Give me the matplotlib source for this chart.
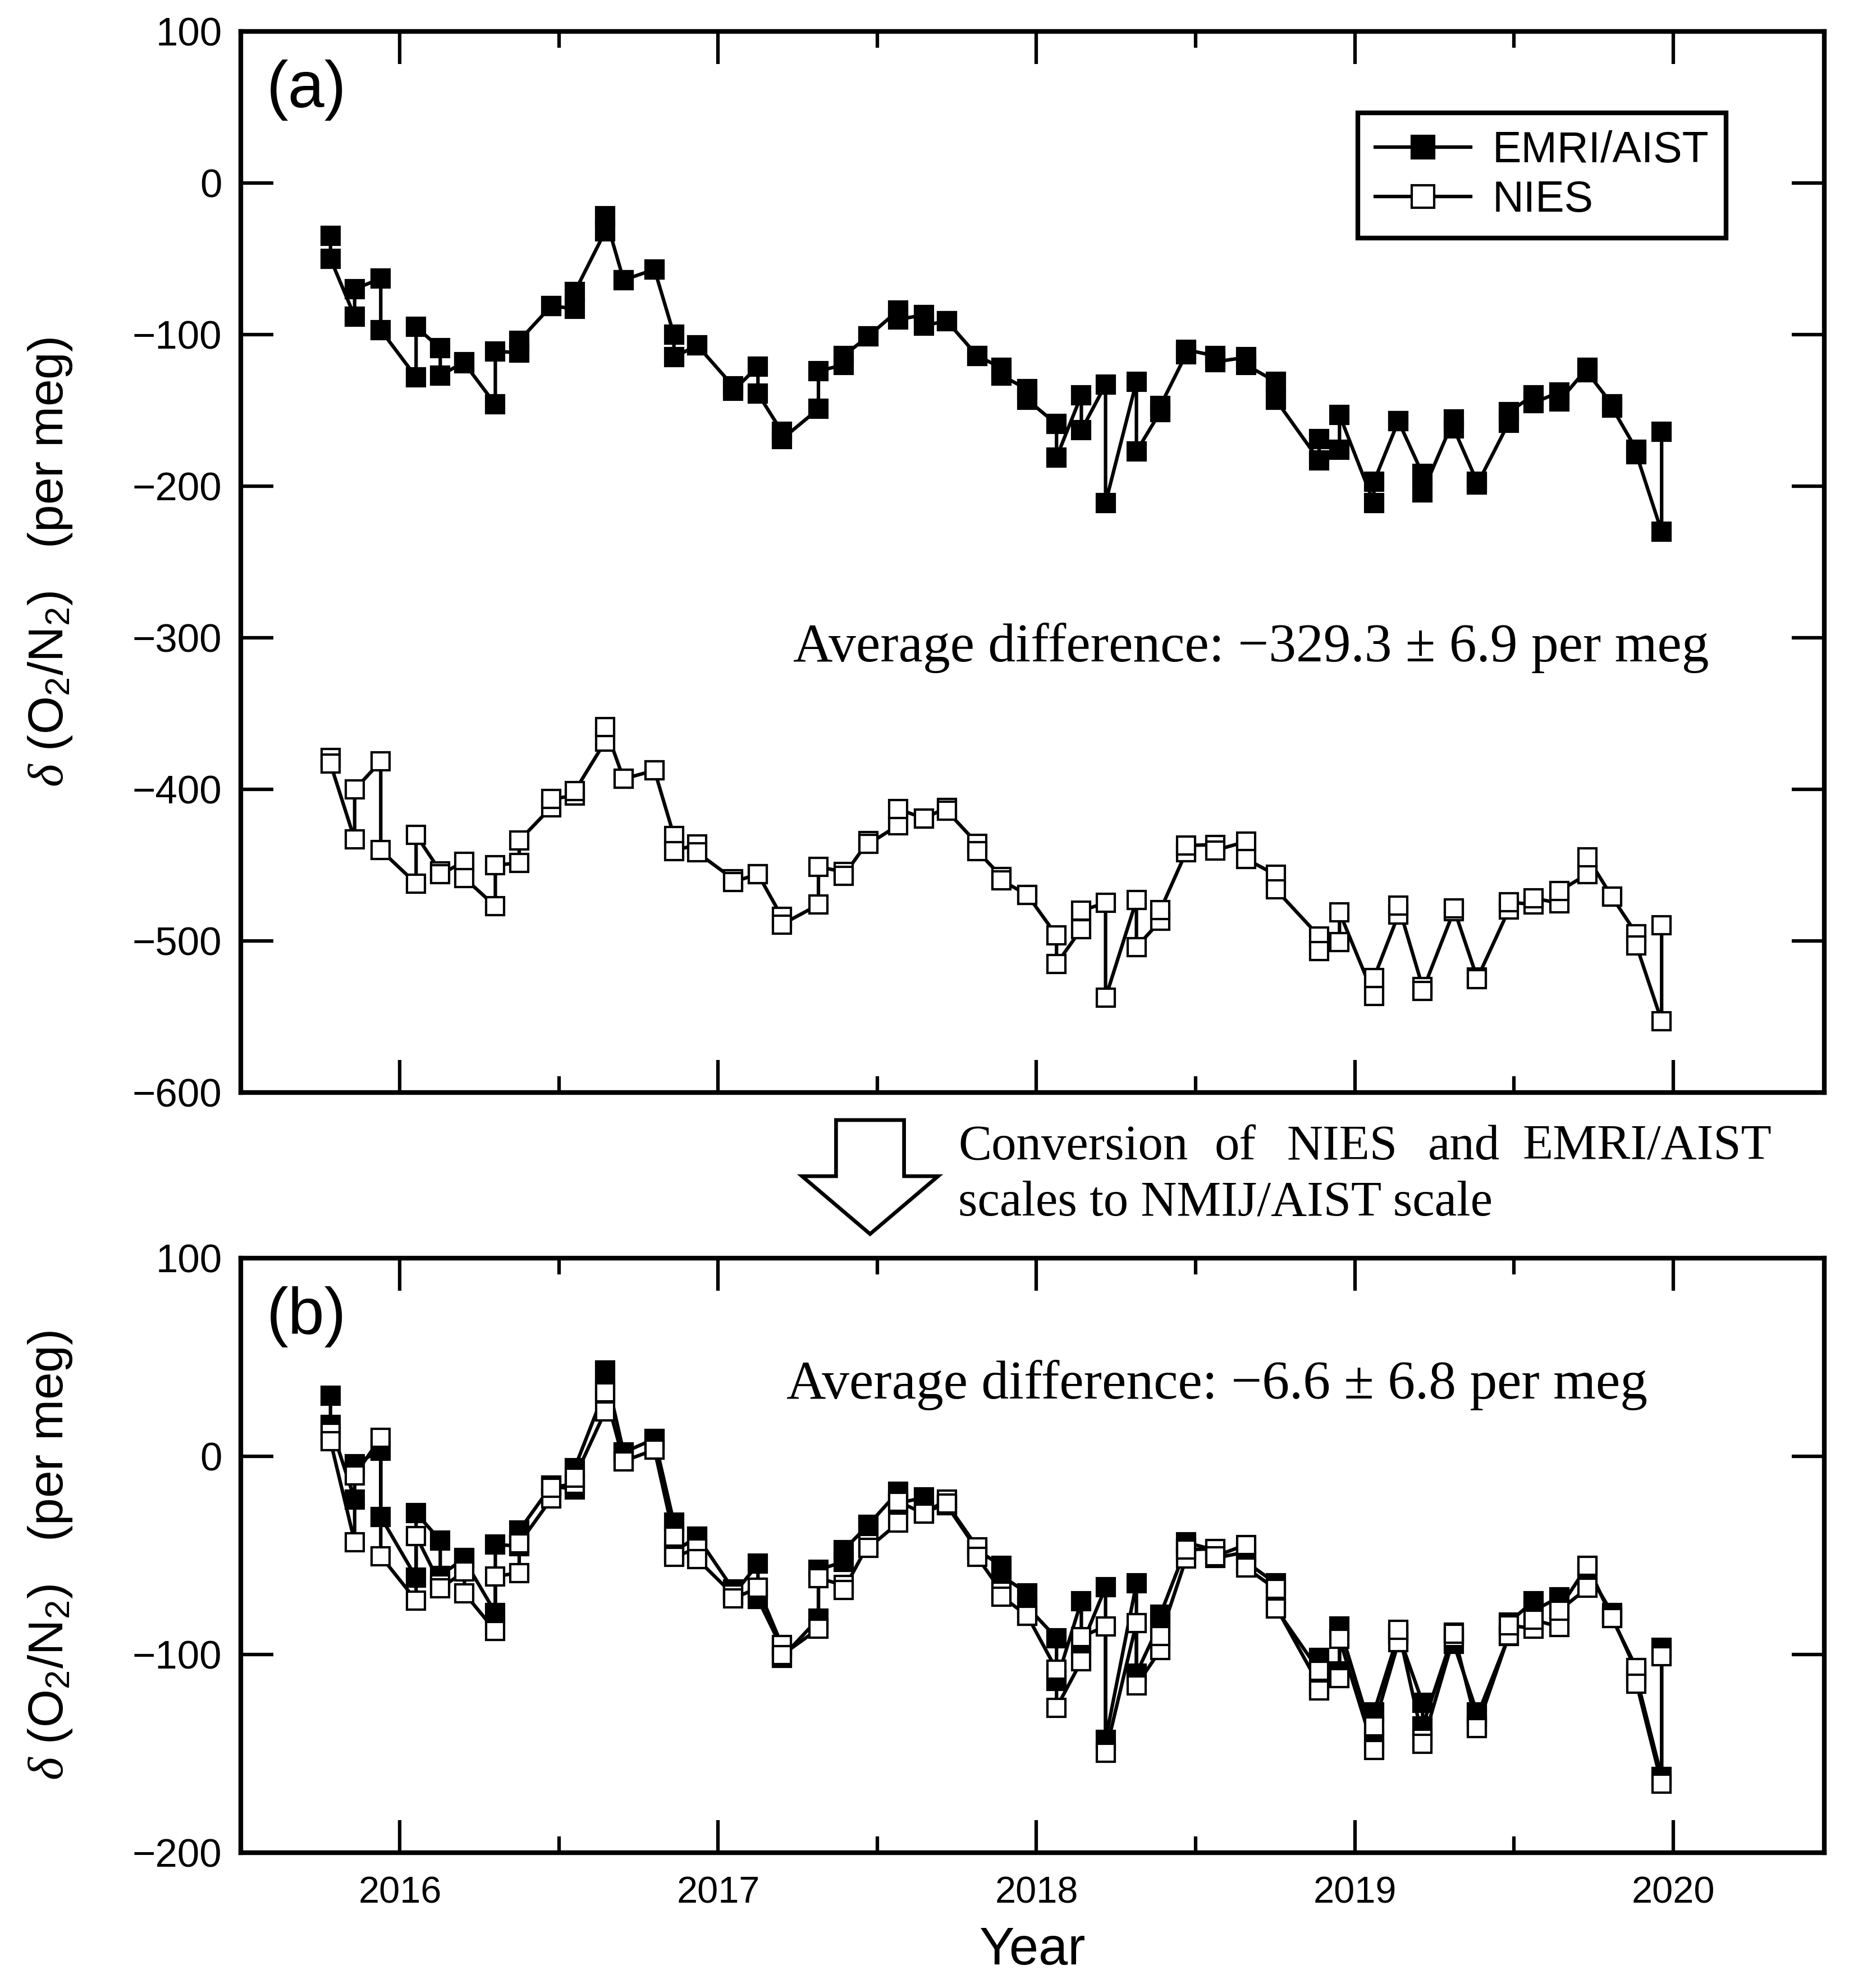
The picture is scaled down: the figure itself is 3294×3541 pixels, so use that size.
import numpy as np
import matplotlib
matplotlib.use("Agg")
import matplotlib.pyplot as plt
from matplotlib.patches import Polygon

plt.rcParams['font.family'] = ['Liberation Sans', 'DejaVu Sans']
plt.rcParams['mathtext.fontset'] = 'custom'
plt.rcParams['mathtext.rm'] = 'Liberation Sans'
plt.rcParams['mathtext.it'] = 'Liberation Serif:italic'
plt.rcParams['mathtext.bf'] = 'Liberation Sans:bold'
plt.rcParams['axes.unicode_minus'] = True

# ---------------- data (decimal year, two samples per date) ----------------
dates = [2015.782, 2015.858, 2015.940, 2016.051, 2016.127, 2016.203, 2016.300, 2016.375,
         2016.476, 2016.549, 2016.645, 2016.703, 2016.800, 2016.861, 2016.934, 2017.047,
         2017.125, 2017.200, 2017.315, 2017.394, 2017.472, 2017.566, 2017.647, 2017.718,
         2017.814, 2017.890, 2017.971, 2018.063, 2018.141, 2018.217, 2018.314, 2018.389,
         2018.470, 2018.561, 2018.658, 2018.752, 2018.888, 2018.952, 2019.060, 2019.137,
         2019.213, 2019.311, 2019.384, 2019.484, 2019.562, 2019.642, 2019.731, 2019.808,
         2019.885, 2019.964]

# panel (a): original scales
emri_a_1 = [-35, -88, -63, -128, -109, -118, -146, -112, -81, -83, -32, -64, -57, -100, -107, -134,
            -121, -164, -149, -120, -101, -84, -87, -91, -114, -122, -136, -159, -140, -133, -131, -151,
            -113, -114, -115, -131, -183, -176, -211, -157, -192, -156, -197, -158, -140, -138, -122, -146,
            -176, -230]
emri_a_2 = [-50, -70, -97, -95, -127, -119, -111, -104, -81, -72, -22, -64, -57, -115, -107, -137,
            -139, -169, -124, -114, -101, -90, -94, -91, -114, -127, -143, -181, -163, -211, -177, -147,
            -110, -118, -120, -143, -169, -153, -197, -157, -204, -162, -199, -151, -145, -144, -125, -148,
            -179, -164]
nies_a_1 = [-379, -433, -381.5, -462, -454, -447.5, -477, -448.3, -411.6, -404.1, -368.4, -393, -387.4,
            -430.5, -436.2, -459, -455.8, -484, -476, -454.3, -434, -423.5, -419, -412, -435.7, -457.5,
            -469.4, -496.3, -492, -474.7, -473, -486.6, -441.3, -436.4, -434.4, -456.3, -496.8, -500.5,
            -536, -482.6, -530.3, -480.1, -524, -479.3, -475.9, -475, -455.8, -470.8, -495.4, -552.7]
nies_a_2 = [-383, -400, -440, -430, -456, -458.4, -450, -433.7, -406.2, -401.2, -359, -393, -387.4,
            -440.5, -441.5, -461, -455.8, -489, -451, -456.8, -436, -413, -419, -414, -440.5, -460,
            -469.4, -515, -480, -537.4, -504, -479.6, -436.9, -440.1, -445.8, -466, -506.5, -481,
            -524.3, -476.4, -532.8, -478.4, -525, -474.2, -471.6, -467, -444.7, -470.8, -503, -489.5]

# panel (b): NMIJ/AIST scale
emri_b_1 = [30.6, -21.8, 2.9, -61.2, -42.5, -51.4, -79.0, -45.4, -14.9, -16.8, 33.5, 1.9, 8.8, -33.6,
            -40.5, -67.2, -54.3, -96.8, -82.0, -53.3, -34.6, -17.8, -20.8, -24.7, -47.4, -55.3, -69.1,
            -91.8, -73.1, -66.2, -64.2, -83.9, -46.4, -47.4, -48.4, -64.2, -115.5, -108.6, -143.2, -89.9,
            -124.4, -88.9, -129.3, -90.8, -73.1, -71.1, -55.3, -79.0, -108.6, -161.9]
emri_b_2 = [15.8, -4.0, -30.6, -28.7, -60.3, -52.4, -44.5, -37.5, -14.9, -6.0, 43.4, 1.9, 8.8, -48.4,
            -40.5, -70.1, -72.1, -101.7, -57.3, -47.4, -34.6, -23.7, -27.7, -24.7, -47.4, -60.3, -76.0,
            -113.5, -95.8, -143.2, -109.6, -80.0, -43.5, -51.4, -53.3, -76.0, -101.7, -85.9, -129.3, -89.9,
            -136.3, -94.8, -131.3, -83.9, -78.0, -77.0, -58.3, -81.0, -111.6, -96.8]
nies_b_1 = [11.8, -43.3, 9.3, -72.8, -64.7, -58.1, -88.1, -58.9, -21.4, -13.8, 22.6, -2.5, 3.3, -40.7,
            -46.5, -69.8, -66.5, -95.3, -87.1, -65.0, -44.3, -33.6, -29.0, -21.8, -46.0, -68.3, -80.4,
            -107.8, -103.4, -85.8, -84.1, -97.9, -51.7, -46.7, -44.7, -67.0, -108.3, -112.1, -148.3, -93.9,
            -142.5, -91.3, -136.1, -90.5, -87.0, -86.1, -66.5, -81.8, -106.9, -165.4]
nies_b_2 = [7.7, -9.6, -50.4, -40.2, -66.7, -69.2, -60.6, -44.0, -15.9, -10.8, 32.2, -2.5, 3.3, -50.9,
            -51.9, -71.8, -66.5, -100.4, -61.6, -67.5, -46.3, -22.9, -29.0, -23.9, -50.9, -70.8, -80.4,
            -126.9, -91.2, -149.7, -115.7, -90.8, -47.2, -50.5, -56.3, -76.9, -118.2, -92.2, -136.4, -87.5,
            -145.1, -89.6, -137.1, -85.3, -82.6, -77.9, -55.2, -81.8, -114.7, -100.9]

year_ticks = [2016, 2017, 2018, 2019, 2020]
year_labels = ['2016', '2017', '2018', '2019', '2020']
label_a = 'Average difference: \u2212329.3 \u00b1 6.9 per meg'
label_b = 'Average difference: \u22126.6 \u00b1 6.8 per meg'

# ---------------- figure ----------------
W, H = 3295, 3541
fig = plt.figure(figsize=(W / 300, H / 300), dpi=300)


def fx(px):
    return px / W


def fy(py):
    return 1 - py / H


left = fx(428.8)
width = fx(3250) - left
ax_a = fig.add_axes([left, fy(1946.4), width, fy(55.8) - fy(1946.4)])
ax_b = fig.add_axes([left, fy(3299.5), width, fy(2241) - fy(3299.5)])


def pairs(x, s1, s2):
    xx = np.repeat(np.asarray(x, float), 2)
    yy = np.column_stack((s1, s2)).ravel()
    return xx, yy


line_kw = dict(color='k', lw=1.5, marker='s', ms=7.6, mew=1.0, mec='k')

xa, ya = pairs(dates, emri_a_1, emri_a_2)
h1, = ax_a.plot(xa, ya, mfc='k', zorder=3, label='EMRI/AIST', **line_kw)
xa, ya = pairs(dates, nies_a_1, nies_a_2)
h2, = ax_a.plot(xa, ya, mfc='white', zorder=4, label='NIES', **line_kw)

xb, yb = pairs(dates, emri_b_1, emri_b_2)
ax_b.plot(xb, yb, mfc='k', zorder=3, **line_kw)
xb, yb = pairs(dates, nies_b_1, nies_b_2)
ax_b.plot(xb, yb, mfc='white', zorder=4, **line_kw)

for ax in (ax_a, ax_b):
    ax.set_xlim(2015.5, 2020.475)
    ax.set_xticks(year_ticks)
    ax.set_xticks([2016.5, 2017.5, 2018.5, 2019.5], minor=True)
    ax.tick_params(which='both', direction='in', top=True, right=True, width=1.5)
    ax.tick_params(which='major', length=14, labelsize=17, pad=8)
    ax.tick_params(which='minor', length=7)
    for sp in ax.spines.values():
        sp.set_linewidth(2)

ax_a.set_ylim(-600, 100)
ax_a.set_yticks(np.arange(-600, 101, 100))
ax_a.tick_params(axis='x', labelbottom=False)

ax_b.set_ylim(-200, 100)
ax_b.set_yticks([-200, -100, 0, 100])
ax_b.set_xticklabels(year_labels)
ax_b.tick_params(axis='x', which='major', labelsize=16, pad=10)

ylab = r"$\delta$ (O$_2$/N$_2$)   (per meg)"
for ax in (ax_a, ax_b):
    ax.set_ylabel(ylab, fontsize=21)
    ax.yaxis.set_label_coords(fx(90 - 428.8) / width, 0.5)
    ax.yaxis.label.set_va('center')

ax_b.set_xlabel('Year', fontsize=22.5)
ax_b.xaxis.set_label_coords(0.5, (3299.5 - 3475) / (3299.5 - 2241))
ax_b.xaxis.label.set_va('center')

for ax, t in ((ax_a, '(a)'), (ax_b, '(b)')):
    ax.annotate(t, xy=(0, 1), xycoords='axes fraction', xytext=(11, -12),
                textcoords='offset points', ha='left', va='top', fontsize=28)

leg = ax_a.legend(handles=[h1, h2], loc='upper right',
                  bbox_to_anchor=((3075 - 428.8) / (3250 - 428.8), (1946.4 - 201) / (1946.4 - 55.8)),
                  borderaxespad=0, frameon=True, fancybox=False, edgecolor='k', framealpha=1,
                  fontsize=18.5, handlelength=2.2, handletextpad=0.5, borderpad=0.4,
                  labelspacing=0.2, markerscale=1.25)
leg.get_frame().set_linewidth(2)

serif = ['Liberation Serif', 'DejaVu Serif']
fig.text(fx(1413), fy(1178), label_a, family=serif, fontsize=23.4, ha='left', va='baseline')
fig.text(fx(1401), fy(2491), label_b, family=serif, fontsize=23.4, ha='left', va='baseline')

# conversion arrow and text
arrow_px = [(1489.4, 1995), (1610.6, 1995), (1610.6, 2095), (1671.2, 2095),
            (1550, 2198), (1428.8, 2095), (1489.4, 2095)]
arrow = Polygon([(fx(x), fy(y)) for x, y in arrow_px], closed=True, transform=fig.transFigure,
                facecolor='white', edgecolor='k', lw=1.6, joinstyle='miter')
fig.add_artist(arrow)

cs = 21.3
fig.text(fx(1707), fy(2065), 'Conversion', family=serif, fontsize=cs, ha='left', va='baseline')
fig.text(fx(2164), fy(2065), 'of', family=serif, fontsize=cs, ha='left', va='baseline')
fig.text(fx(2293), fy(2065), 'NIES', family=serif, fontsize=cs, ha='left', va='baseline')
fig.text(fx(2544), fy(2065), 'and', family=serif, fontsize=cs, ha='left', va='baseline')
fig.text(fx(3156), fy(2065), 'EMRI/AIST', family=serif, fontsize=cs, ha='right', va='baseline')
fig.text(fx(1707), fy(2165), 'scales to NMIJ/AIST scale', family=serif, fontsize=cs,
         ha='left', va='baseline')

fig.savefig('out.png', dpi=300, facecolor='white')
